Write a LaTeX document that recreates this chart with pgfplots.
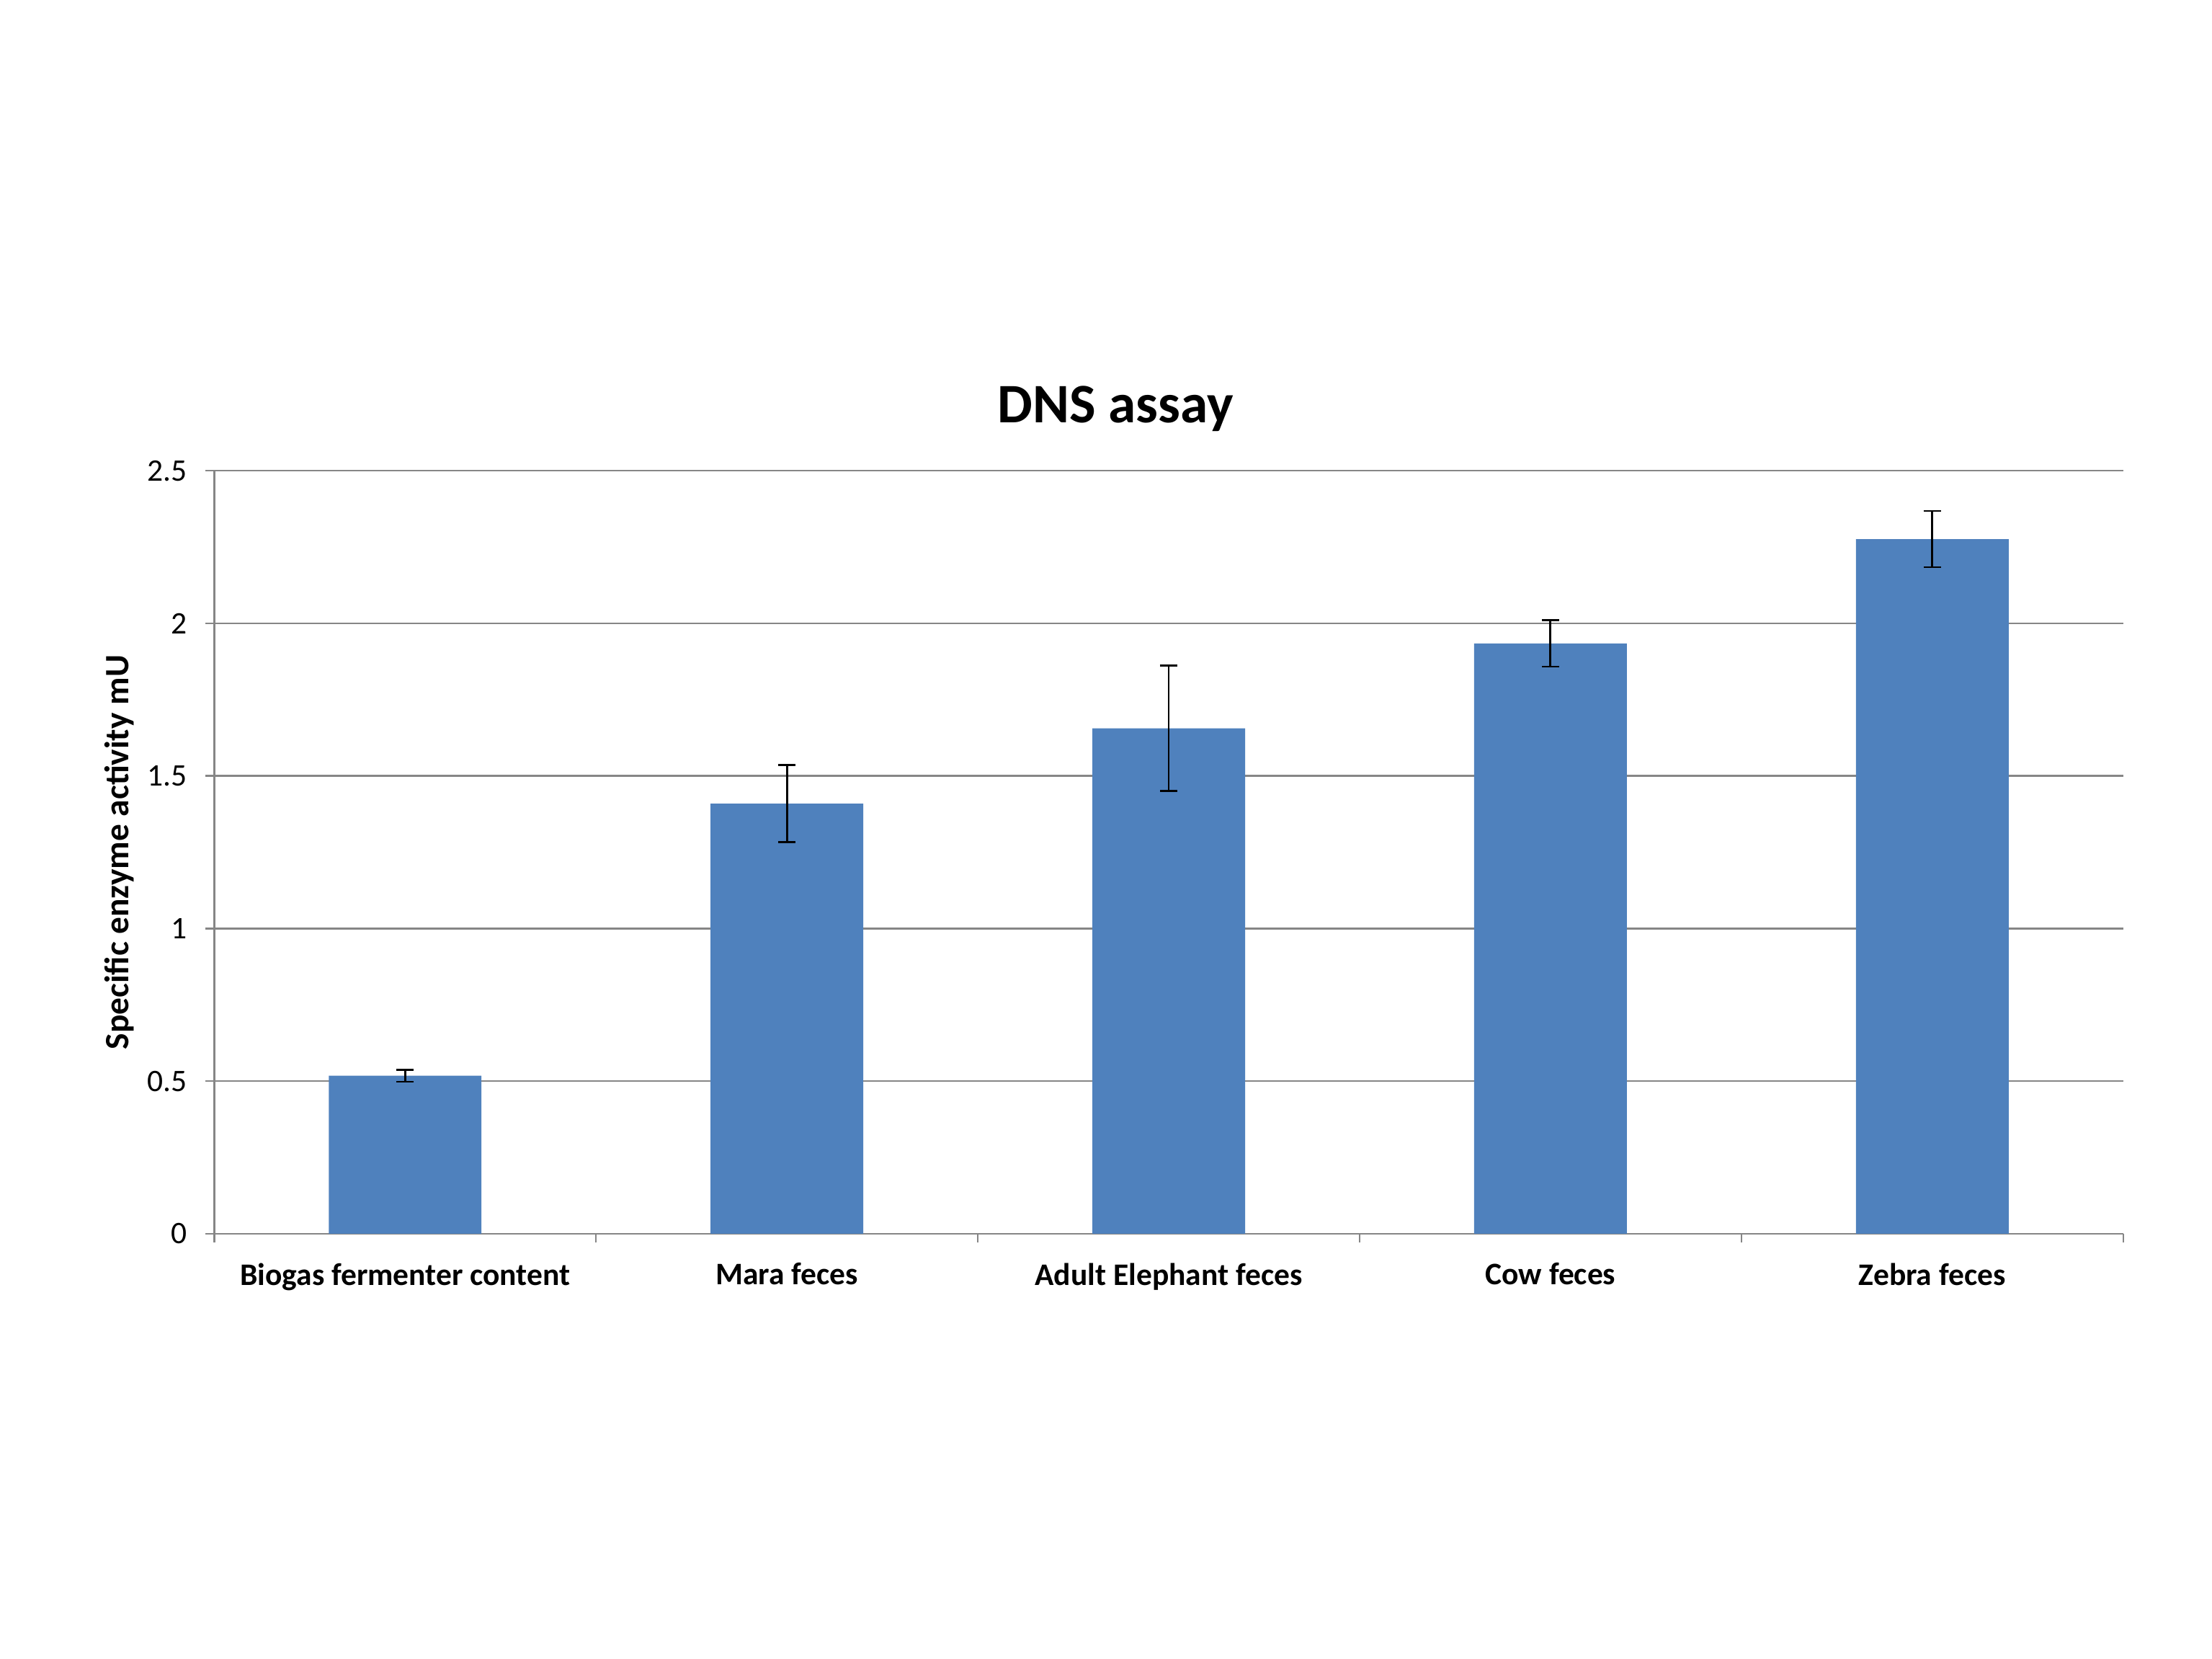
\documentclass[border=0pt]{standalone}
\usepackage{fontspec}
\setmainfont{Carlito}
\usepackage{pgfplots}
\usepackage{pgfplotstable}
\pgfplotsset{compat=1.18}
\definecolor{barblue}{RGB}{79,129,189}
\definecolor{gridgray}{RGB}{134,134,134}
\pgfplotstableread{
x y e
0 0.518 0.020
1 1.409 0.126
2 1.656 0.206
3 1.934 0.076
4 2.276 0.092
}\dnsdata
\begin{document}
\begin{tikzpicture}
\path[use as bounding box, fill=white] (0,0) rectangle (635pt,476pt);
\begin{axis}[
  at={(61.5pt,121.9pt)}, anchor=south west,
  scale only axis, width=548pt, height=219pt,
  ybar, bar width=0.4,
  xmin=-0.5, xmax=4.5, ymin=0, ymax=2.5,
  ytick={0,0.5,1,1.5,2,2.5},
  xtick={0,1,2,3,4},
  xticklabels={Biogas fermenter content, Mara feces, Adult Elephant feces, Cow feces, Zebra feces},
  major x tick style={draw=none},
  minor xtick={-0.5,0.5,1.5,2.5,3.5,4.5},
  tick align=outside,
  major tick length=2.5pt, minor tick length=2.5pt,
  tick style={gridgray, line width=0.5pt},
  axis x line*=bottom, axis y line*=left,
  axis line style={-, gridgray, line width=0.5pt},
  ymajorgrids, grid style={gridgray, line width=0.5pt},
  /pgf/number format/assume math mode=true,
  yticklabel style={font=\fontsize{9}{10}\selectfont, xshift=-1.8pt},
  xticklabel style={font=\bfseries\fontsize{9}{10}\selectfont, yshift=-2.4pt},
  ylabel={Specific enzyme activity mU},
  ylabel style={at={(axis description cs:-0.0496,0.5)}, anchor=center, font=\bfseries\fontsize{9.8}{11}\selectfont},
  title={DNS assay},
  title style={at={(axis description cs:0.4722,1)}, anchor=center, yshift=11.8pt, font=\bfseries\fontsize{16}{19}\selectfont},
]
\addplot[fill=barblue, draw=none,
  error bars/.cd, y dir=both, y explicit,
  error bar style={black, line width=0.6pt},
  error mark options={rotate=90, black, mark size=2.5pt, line width=0.6pt}]
  table[x=x, y=y, y error=e] {\dnsdata};
\end{axis}
\end{tikzpicture}
\end{document}
